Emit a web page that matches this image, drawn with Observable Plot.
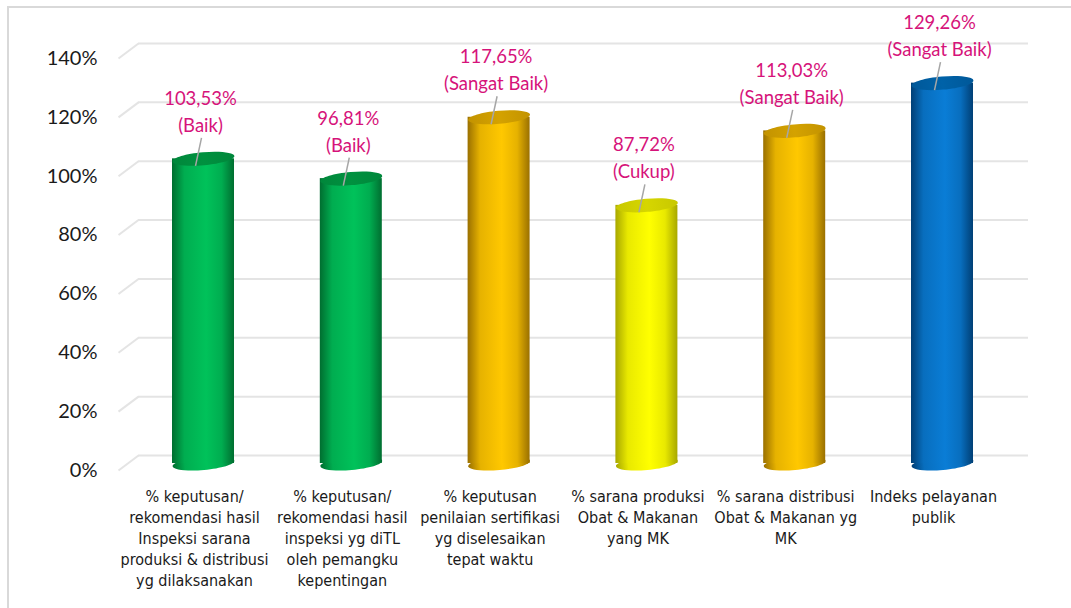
<!DOCTYPE html>
<html>
<head>
<meta charset="utf-8">
<script src="https://cdn.jsdelivr.net/npm/d3@7"></script>
<script src="https://cdn.jsdelivr.net/npm/@observablehq/plot@0.6"></script>
<style>
  html, body { margin: 0; padding: 0; background: #fff; }
  #wrap { position: relative; width: 1071px; height: 608px; overflow: hidden; }
  #frame { position: absolute; left: 7px; top: 6px; right: -10px; bottom: -10px;
           border-top: 2px solid #d9d9d9; border-left: 2px solid #d9d9d9; pointer-events: none; }
  svg { display: block; }
</style>
</head>
<body>
<div id="wrap"><div id="frame"></div></div>
<script>
// ---- data ----
const categories = [
  "% keputusan/\nrekomendasi hasil\nInspeksi sarana\nproduksi & distribusi\nyg dilaksanakan",
  "% keputusan/\nrekomendasi hasil\ninspeksi yg diTL\noleh pemangku\nkepentingan",
  "% keputusan\npenilaian sertifikasi\nyg diselesaikan\ntepat waktu",
  "% sarana produksi\nObat & Makanan\nyang MK",
  "% sarana distribusi\nObat & Makanan yg\nMK",
  "Indeks pelayanan\npublik"
];
const values = [1.0353, 0.9681, 1.1765, 0.8772, 1.1303, 1.2926];
const valueLabels = ["103,53%", "96,81%", "117,65%", "87,72%", "113,03%", "129,26%"];
const ratings = ["Baik", "Baik", "Sangat Baik", "Cukup", "Sangat Baik", "Sangat Baik"];
const colorKeys = ["green", "green", "gold", "yellow", "gold", "blue"];
const yTicks = [0, 0.2, 0.4, 0.6, 0.8, 1.0, 1.2, 1.4];

// ---- styles ----
const palette = {
  green:  {edge: "#006e30", mid: "#00c25a", top: "#00913f"},
  gold:   {edge: "#9a7000", mid: "#ffc800", top: "#d4a200"},
  yellow: {edge: "#a8a800", mid: "#ffff00", top: "#d6d600"},
  blue:   {edge: "#003f75", mid: "#0a7dd6", top: "#0062a8"}
};

const data = values.map((v, i) => ({i, v, label: categories[i], key: colorKeys[i],
  text: valueLabels[i] + "\n(" + ratings[i] + ")"}));

// scale geometry
const yRange = [463, 51];
const xRange = [203, 942];
const pxY = 1.4 / (yRange[0] - yRange[1]);   // data units per pixel (y)
const pxX = 5 / (xRange[1] - xRange[0]);     // data units per pixel (x)
const halfBar = 31 * pxX;

const ellipse = {
  draw(ctx, size) {
    const r = Math.sqrt(size / Math.PI), rx = r, ry = r * 0.21, k = 0.5523;
    ctx.moveTo(rx, 0);
    ctx.bezierCurveTo(rx, ry * k, rx * k, ry, 0, ry);
    ctx.bezierCurveTo(-rx * k, ry, -rx, ry * k, -rx, 0);
    ctx.bezierCurveTo(-rx, -ry * k, -rx * k, -ry, 0, -ry);
    ctx.bezierCurveTo(rx * k, -ry, rx, -ry * k, rx, 0);
    ctx.closePath();
  }
};

const gridL = (118 - xRange[0]) * pxX;
const gridB = (138 - xRange[0]) * pxX;
const gridR = (1028 - xRange[0]) * pxX;

const chart = Plot.plot({
  width: 1071,
  height: 608,
  marginLeft: 100,
  marginRight: 0,
  marginTop: 0,
  marginBottom: 0,
  x: {type: "linear", domain: [0, 5], range: xRange, axis: null},
  y: {domain: [0, 1.4], range: yRange, axis: null},
  color: {type: "identity"},
  style: {fontFamily: "Lato, 'Open Sans', sans-serif", background: "transparent"},
  marks: [
    // back-wall gridlines with perspective edge
    Plot.ruleY(yTicks, {y: d => d, x1: gridB, x2: gridR, dy: -8, stroke: "#e4e4e4", strokeWidth: 2}),
    Plot.link(yTicks, {x1: gridL, x2: gridB, y1: d => d - 7 * pxY, y2: d => d + 8 * pxY, stroke: "#e4e4e4", strokeWidth: 2}),
    // y labels
    Plot.text(yTicks, {y: d => d, text: d => Math.round(d * 100) + "%", frameAnchor: "left",
      textAnchor: "end", dx: -3, dy: 7, fontSize: 20, fill: "#1a1a1a"}),
    // cylinder bottoms
    Plot.dot(data, {x: "i", y: 0, r: 31, symbol: ellipse, rotate: -5, fill: d => `url(#body-${d.key})`, stroke: "none"}),
    // cylinder bodies
    Plot.rect(data, {x1: d => d.i - halfBar, x2: d => d.i + halfBar, y1: 0, y2: "v", fill: d => `url(#body-${d.key})`}),
    // cylinder tops
    Plot.dot(data, {x: "i", y: "v", r: 31, symbol: ellipse, rotate: -5, fill: d => `url(#top-${d.key})`, stroke: "none"}),
    // leader lines
    Plot.link(data, {x1: d => d.i - 2 * pxX, x2: d => d.i - 8 * pxX, y1: d => d.v + 21 * pxY, y2: d => d.v - 7 * pxY,
      stroke: "#a6a6a6", strokeWidth: 1.5}),
    // value labels
    Plot.text(data, {x: "i", y: "v", text: "text", lineAnchor: "bottom", dy: -27, dx: -3,
      lineHeight: 1.46, fontSize: 18.5, fill: "#d6137a"}),
    // category labels
    Plot.text(data, {x: "i", y: 0, text: "label", lineAnchor: "top", dy: 24, dx: -9, fontSize: 16,
      lineHeight: 1.31, fill: "#1a1a1a",
      fontFamily: "'Liberation Sans Narrow', 'Arial Narrow', 'DejaVu Sans Condensed', 'Liberation Sans', sans-serif"})
  ]
});

// gradient definitions
const defs = d3.select(chart).insert("defs", ":first-child");
for (const [key, c] of Object.entries(palette)) {
  const g = defs.append("linearGradient").attr("id", `body-${key}`).attr("x1", 0).attr("x2", 1).attr("y1", 0).attr("y2", 0);
  [[0, c.edge], [0.2, d3.interpolateRgb(c.edge, c.mid)(0.75)], [0.55, c.mid], [0.8, d3.interpolateRgb(c.edge, c.mid)(0.75)], [1, c.edge]]
    .forEach(([o, col]) => g.append("stop").attr("offset", o).attr("stop-color", col));
  const t = defs.append("linearGradient").attr("id", `top-${key}`).attr("x1", 0).attr("x2", 1).attr("y1", 0).attr("y2", 0);
  [[0, d3.interpolateRgb(c.top, c.edge)(0.3)], [0.5, c.top], [1, d3.interpolateRgb(c.top, c.edge)(0.3)]]
    .forEach(([o, col]) => t.append("stop").attr("offset", o).attr("stop-color", col));
}

document.getElementById("wrap").prepend(chart);
</script>
</body>
</html>
